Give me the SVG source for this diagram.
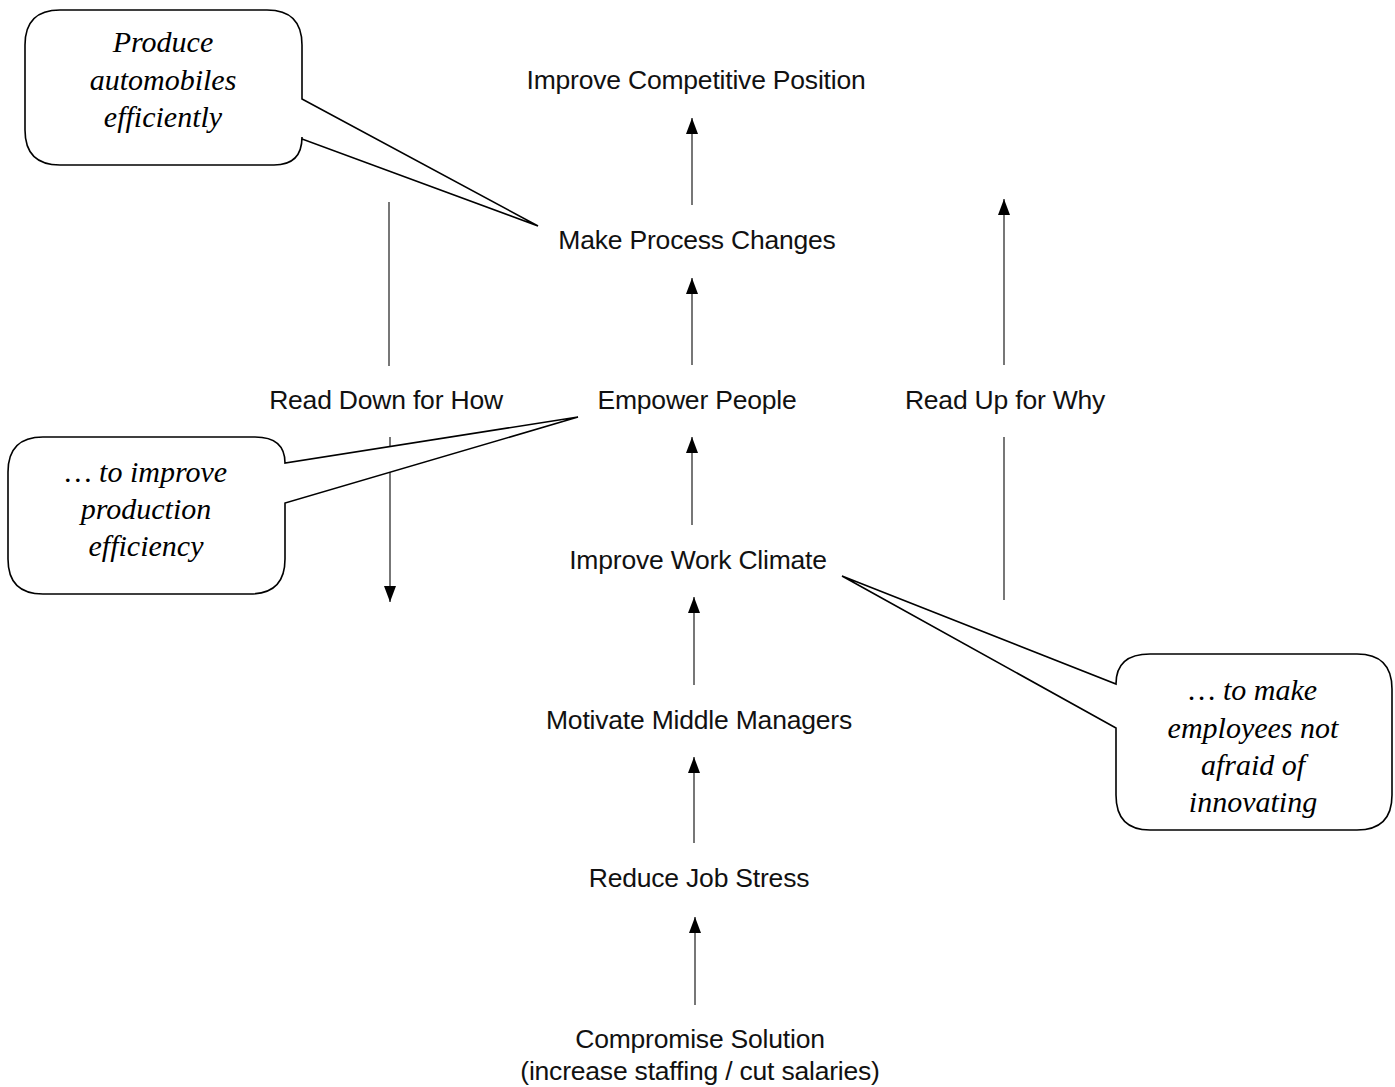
<svg xmlns="http://www.w3.org/2000/svg" width="1395" height="1087" viewBox="0 0 1395 1087">
<style>
.lbl{font-family:"Liberation Sans",Arial,sans-serif;font-size:26.5px;fill:#111;text-anchor:middle;letter-spacing:-0.2px}
.note{font-family:"Liberation Serif","Times New Roman",serif;font-size:30px;font-style:italic;fill:#000;text-anchor:middle}
.call{fill:#fff;stroke:#000;stroke-width:1.6;stroke-linejoin:miter}
.con{stroke:#777;stroke-width:2;fill:none}
</style>
<defs>
<marker id="ah" viewBox="0 0 16 12" refX="16" refY="6" markerWidth="16" markerHeight="12" markerUnits="userSpaceOnUse" orient="auto">
<path d="M0,0 L16,6 L0,12 Z" fill="#000"/>
</marker>
</defs>
<rect width="1395" height="1087" fill="#fff"/>
<g id="connectors">
<line class="con" x1="692" y1="205" x2="692" y2="118" marker-end="url(#ah)"/>
<line class="con" x1="692" y1="365" x2="692" y2="278" marker-end="url(#ah)"/>
<line class="con" x1="692" y1="525" x2="692" y2="437" marker-end="url(#ah)"/>
<line class="con" x1="694" y1="685" x2="694" y2="597" marker-end="url(#ah)"/>
<line class="con" x1="694" y1="843" x2="694" y2="757" marker-end="url(#ah)"/>
<line class="con" x1="695" y1="1005" x2="695" y2="917" marker-end="url(#ah)"/>
<line class="con" x1="389" y1="202" x2="389" y2="366"/>
<line class="con" x1="390" y1="437" x2="390" y2="602" marker-end="url(#ah)"/>
<line class="con" x1="1004" y1="365" x2="1004" y2="199" marker-end="url(#ah)"/>
<line class="con" x1="1004" y1="437" x2="1004" y2="600"/>
</g>
<g id="n-competitive"><text class="lbl" x="696" y="89">Improve Competitive Position</text></g>
<g id="n-process"><text class="lbl" x="697" y="249">Make Process Changes</text></g>
<g id="n-empower"><text class="lbl" x="697" y="409">Empower People</text></g>
<g id="n-readdown"><text class="lbl" x="386" y="409">Read Down for How</text></g>
<g id="n-readup"><text class="lbl" x="1005" y="409">Read Up for Why</text></g>
<g id="n-climate"><text class="lbl" x="698" y="569">Improve Work Climate</text></g>
<g id="n-motivate"><text class="lbl" x="699" y="729">Motivate Middle Managers</text></g>
<g id="n-stress"><text class="lbl" x="699" y="887">Reduce Job Stress</text></g>
<g id="n-compromise"><text class="lbl" x="700" y="1048">Compromise Solution</text><text class="lbl" x="700" y="1080">(increase staffing / cut salaries)</text></g>
<g id="callout-1">
<path class="call" d="M60,10 H267 Q302,10 302,45 V99 L538,226 L302,139 V137 Q302,165 274,165 H60 Q25,165 25,130 V45 Q25,10 60,10 Z"/>
<text class="note" x="163" y="52">Produce</text>
<text class="note" x="163" y="90">automobiles</text>
<text class="note" x="163" y="127">efficiently</text>
</g>
<g id="callout-2">
<path class="call" d="M43,437 H255 Q285,437 285,463 L578,417 L285,503 V559 Q285,594 250,594 H43 Q8,594 8,559 V472 Q8,437 43,437 Z"/>
<text class="note" x="146" y="482">… to improve</text>
<text class="note" x="146" y="519">production</text>
<text class="note" x="146" y="556">efficiency</text>
</g>
<g id="callout-3">
<path class="call" d="M1150,654 H1357 Q1392,654 1392,689 V795 Q1392,830 1357,830 H1150 Q1116,830 1116,795 V728 L842,576 L1116,684 Q1116,654 1150,654 Z"/>
<text class="note" x="1253" y="700">… to make</text>
<text class="note" x="1253" y="738">employees not</text>
<text class="note" x="1253" y="775">afraid of</text>
<text class="note" x="1253" y="812">innovating</text>
</g>
</svg>
